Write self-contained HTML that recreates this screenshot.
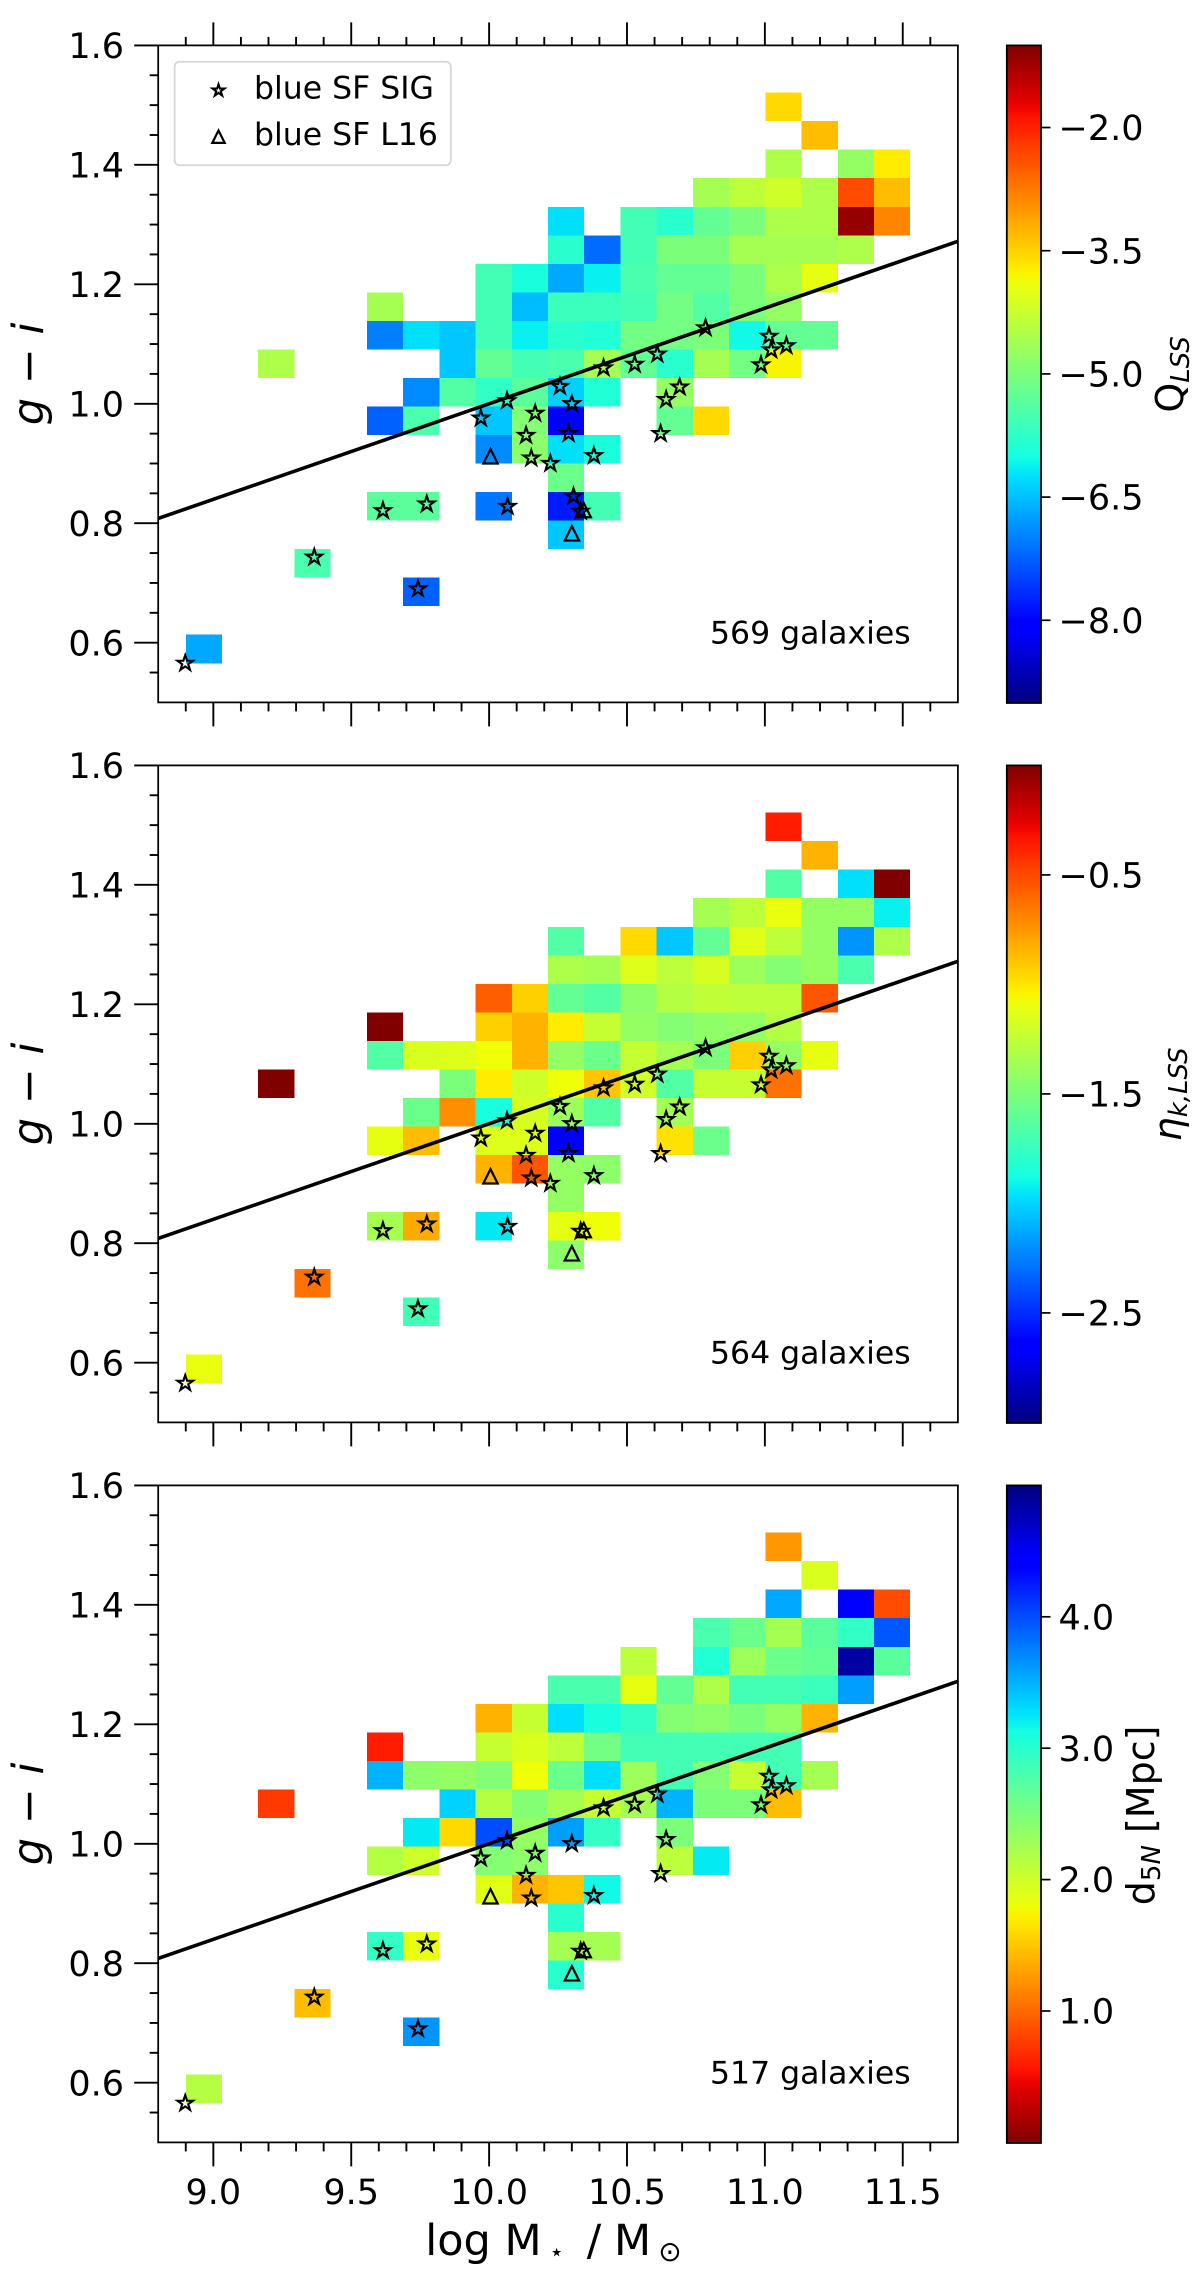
<!DOCTYPE html>
<html lang="en">
<head>
<meta charset="utf-8">
<title>Colour-mass diagrams</title>
<style>
html,body{margin:0;padding:0;background:#fff;}
svg{display:block;}
text{font-family:"DejaVu Sans","Liberation Sans",sans-serif;fill:#000;}
</style>
</head>
<body>
<svg id="figure" xmlns="http://www.w3.org/2000/svg" width="1200" height="2280" viewBox="0 0 1200 2280">
<defs id="defs"></defs>
</svg>
<script>
const N = null;

const massTicks = [9.0, 9.5, 10.0, 10.5, 11.0, 11.5];
const massMinorTicks = [8.9, 9.1, 9.2, 9.3, 9.4, 9.6, 9.7, 9.8, 9.9, 10.1, 10.2, 10.3, 10.4, 10.6, 10.7, 10.8, 10.9, 11.1, 11.2, 11.3, 11.4, 11.6];
const colourTicks = [0.6, 0.8, 1.0, 1.2, 1.4, 1.6];
const colourMinorTicks = [0.55, 0.65, 0.7, 0.75, 0.85, 0.9, 0.95, 1.05, 1.1, 1.15, 1.25, 1.3, 1.35, 1.45, 1.5, 1.55];

const qlssTicks = [-2.0, -3.5, -5.0, -6.5, -8.0];
const etaTicks = [-0.5, -1.5, -2.5];
const d5nTicks = [1.0, 2.0, 3.0, 4.0];

const galaxyCounts = [569, 564, 517];

const sequenceSlope = 0.16;
const sequenceIntercept = -0.6;

const sigStarMass = [8.898, 9.366, 9.742, 9.615, 9.774, 10.067, 9.97, 10.065, 10.167, 10.134, 10.153, 10.222, 10.257, 10.30, 10.288, 10.306, 10.332, 10.38, 10.642, 10.691, 10.622, 10.415, 10.528, 10.61, 10.785, 11.015, 11.023, 11.078, 10.986];
const sigStarColour = [0.5655, 0.743, 0.690, 0.821, 0.832, 0.828, 0.976, 1.005, 0.984, 0.947, 0.909, 0.900, 1.029, 1.0, 0.95, 0.845, 0.82, 0.913, 1.007, 1.028, 0.95, 1.06, 1.066, 1.083, 1.127, 1.113, 1.09, 1.097, 1.065];
const panel1MissingStars = [];
const panel2MissingStars = [15];
const panel3MissingStars = [5, 11, 12, 14, 15, 19, 24];

const l16Mass = [10.005, 10.30, 10.343];
const l16Colour = [0.912, 0.783, 0.822];

/* 2-D bins: first row is the lowest g-i row, each row listed by increasing mass bin */
const binMassStart = 8.9;
const binMassStep = 0.13135;
const binColourStart = 0.5655;
const binColourStep = 0.04777;

const qlssValues = [
[-6.68],
[],
[N,N,N,N,N,N,-7.24],
[N,N,N,-5.48],
[N,N,N,N,N,N,N,N,N,N,-6.44],
[N,N,N,N,N,-5.32,-5.32,N,-7.08,N,-7.8,-5.56],
[N,N,N,N,N,N,N,N,N,N,-5.16],
[N,N,N,N,N,N,N,N,-6.92,-4.84,-6.24,-5.96],
[N,N,N,N,N,-7.24,-5.48,N,-6.44,-4.92,-8.04,N,N,-5.24,-3.56],
[N,N,N,N,N,N,-6.92,-5.4,-5.72,-5.32,-6.36,-5.88,N,-4.76],
[N,N,-4.52,N,N,N,N,-6.44,-5.24,-5.56,-5.48,-4.6,-5.24,-5.8,-4.6,-5.08,-3.8],
[N,N,N,N,N,-7,-6.24,-6.44,-5.56,-6.12,-5.8,-5.88,-5.08,-5.08,-5,-6.04,-5.24,-5.24],
[N,N,N,N,N,-4.6,N,N,-5.56,-6.52,-5.64,-5.64,-5.56,-5.08,-5.4,-5,-4.76],
[N,N,N,N,N,N,N,N,-5.56,-5.96,-6.68,-6.12,-5.48,-5.24,-5.24,-5,-4.52,-3.96],
[N,N,N,N,N,N,N,N,N,N,-5.8,-7.16,-5.56,-5,-5,-4.6,-4.6,-4.6,-4.52],
[N,N,N,N,N,N,N,N,N,N,-6.24,N,-5.56,-5.8,-5.24,-5,-4.52,-4.52,-1.16,-2.84],
[N,N,N,N,N,N,N,N,N,N,N,N,N,N,-4.6,-4.36,-4.2,-4.52,-2.36,-3.32],
[N,N,N,N,N,N,N,N,N,N,N,N,N,N,N,N,-4.52,N,-4.76,-3.72],
[N,N,N,N,N,N,N,N,N,N,N,N,N,N,N,N,N,-3.32],
[N,N,N,N,N,N,N,N,N,N,N,N,N,N,N,N,-3.56]
];

const etaValues = [
[-1.1],
[],
[N,N,N,N,N,N,-1.71],
[N,N,N,-0.63],
[N,N,N,N,N,N,N,N,N,N,-1.44],
[N,N,N,N,N,-1.35,-0.81,N,-1.94,N,-1.11,-1.08],
[N,N,N,N,N,N,N,N,N,N,-1.41],
[N,N,N,N,N,N,N,N,-0.84,-0.54,-1.41,-1.44],
[N,N,N,N,N,-1.11,-0.87,N,-1.14,-1.14,-2.64,N,N,-0.99,-1.56],
[N,N,N,N,N,N,-1.56,-0.72,-1.86,-1.17,-1.38,-1.65,N,-1.35],
[N,N,0,N,N,N,N,-1.5,-1.02,-1.2,-1.08,-0.9,-1.2,-1.65,-1.23,-1.23,-0.63],
[N,N,N,N,N,-1.65,-1.16,-1.14,-1.08,-0.84,-1.41,-1.56,-1.23,-1.35,-1.5,-0.93,-1.41,-1.11],
[N,N,N,N,N,0,N,N,-0.93,-0.84,-1.02,-1.23,-1.41,-1.47,-1.43,-1.41,-1.29],
[N,N,N,N,N,N,N,N,-0.57,-0.93,-1.59,-1.65,-1.44,-1.29,-1.25,-1.26,-1.26,-0.54],
[N,N,N,N,N,N,N,N,N,N,-1.32,-1.35,-1.14,-1.26,-1.17,-1.38,-1.47,-1.41,-1.68],
[N,N,N,N,N,N,N,N,N,N,-1.65,N,-0.96,-2.04,-1.59,-1.13,-1.26,-1.41,-2.19,-1.32],
[N,N,N,N,N,N,N,N,N,N,N,N,N,N,-1.35,-1.26,-1.1,-1.41,-1.41,-1.92],
[N,N,N,N,N,N,N,N,N,N,N,N,N,N,N,N,-1.65,N,-1.97,0],
[N,N,N,N,N,N,N,N,N,N,N,N,N,N,N,N,N,-0.84],
[N,N,N,N,N,N,N,N,N,N,N,N,N,N,N,N,-0.36]
];

const d5nValues = [
[2.15],
[],
[N,N,N,N,N,N,3.65],
[N,N,N,1.45],
[N,N,N,N,N,N,N,N,N,N,3.0],
[N,N,N,N,N,2.95,1.83,N,N,N,2.25,2.25],
[N,N,N,N,N,N,N,N,N,N,3.0],
[N,N,N,N,N,N,N,N,1.88,1.4,1.5,3.15],
[N,N,N,N,N,2.15,2.0,N,2.45,2.4,N,N,N,2.1,3.23],
[N,N,N,N,N,N,3.23,1.6,4.0,2.35,3.6,2.95,N,2.5],
[N,N,0.75,N,N,N,N,3.35,2.15,2.45,2.25,2.05,2.25,3.5,2.5,2.5,1.45],
[N,N,N,N,N,3.5,2.4,2.35,2.45,1.8,2.6,3.28,2.3,2.85,2.45,2.05,2.85,2.25],
[N,N,N,N,N,0.6,N,N,2.05,1.93,2.1,2.55,2.85,2.85,2.85,2.85,2.85],
[N,N,N,N,N,N,N,N,1.4,2.05,3.28,3.1,2.95,2.45,2.4,2.5,2.35,1.4],
[N,N,N,N,N,N,N,N,N,N,2.8,2.8,1.85,2.65,2.2,2.85,2.85,2.9,3.6],
[N,N,N,N,N,N,N,N,N,N,N,N,2.1,N,3.05,2.3,2.6,2.65,4.85,2.7],
[N,N,N,N,N,N,N,N,N,N,N,N,N,N,2.8,2.6,2.25,2.7,2.95,3.95],
[N,N,N,N,N,N,N,N,N,N,N,N,N,N,N,N,3.55,N,4.38,0.85],
[N,N,N,N,N,N,N,N,N,N,N,N,N,N,N,N,N,1.93],
[N,N,N,N,N,N,N,N,N,N,N,N,N,N,N,N,1.25]
];

const SVG_NS = 'http://www.w3.org/2000/svg';
const svg = document.getElementById('figure');
const defs = document.getElementById('defs');

const AX_LEFT = 158.2, AX_RIGHT = 957.9, MASS_MIN = 8.8, MASS_MAX = 11.7;
const COL_MIN = 0.5, COL_MAX = 1.6, AX_HEIGHT = 657;
const CB_LEFT = 1006.8, CB_RIGHT = 1041;
const TICK_FONT = 35, NOTE_FONT = 31.5, LABEL_FONT = 43;

function el(tag, attrs, parent) {
  const node = document.createElementNS(SVG_NS, tag);
  for (const k in attrs) node.setAttribute(k, attrs[k]);
  parent.appendChild(node);
  return node;
}

function interp(stops, t) {
  for (let i = 1; i < stops.length; i++) {
    if (t <= stops[i][0]) {
      const a = stops[i - 1], b = stops[i];
      return a[1] + (b[1] - a[1]) * (t - a[0]) / (b[0] - a[0]);
    }
  }
  return stops[stops.length - 1][1];
}
const jetR = [[0,0],[0.35,0],[0.66,1],[0.89,1],[1,0.5]];
const jetG = [[0,0],[0.125,0],[0.375,1],[0.64,1],[0.91,0],[1,0]];
const jetB = [[0,0.5],[0.11,1],[0.34,1],[0.65,0],[1,0]];
function jet(t) {
  t = Math.max(0, Math.min(1, t));
  const c = [jetR, jetG, jetB].map(s => Math.round(255 * interp(s, t)));
  return 'rgb(' + c.join(',') + ')';
}

function xScale(m) {
  return AX_LEFT + (m - MASS_MIN) / (MASS_MAX - MASS_MIN) * (AX_RIGHT - AX_LEFT);
}
function makeYScale(top) {
  return function (c) {
    return top + (COL_MAX - c) / (COL_MAX - COL_MIN) * AX_HEIGHT;
  };
}

function starPoints(cx, cy, R) {
  const pts = [];
  for (let i = 0; i < 10; i++) {
    const r = i % 2 === 0 ? R : R * 0.382;
    const a = -Math.PI / 2 + i * Math.PI / 5;
    pts.push((cx + r * Math.cos(a)).toFixed(2) + ',' + (cy + r * Math.sin(a)).toFixed(2));
  }
  return pts.join(' ');
}
function trianglePoints(cx, cy, R) {
  return [cx + ',' + (cy - R), (cx + R) + ',' + (cy + R), (cx - R) + ',' + (cy + R)].join(' ');
}

function drawPanel(opts) {
  const top = opts.top;
  const bottom = top + AX_HEIGHT;
  const yScale = makeYScale(top);

  const group = el('g', {}, svg);
  
  

  /* heatmap cells */
  const cells = el('g', {'shape-rendering': 'crispEdges'}, group);
  
  
  opts.values.forEach(function (row, j) {
    row.forEach(function (v, i) {
      if (v === null || v === undefined) return;
      const x0 = xScale(binMassStart + i * binMassStep);
      const x1 = xScale(binMassStart + (i + 1) * binMassStep);
      const y1 = yScale(binColourStart + j * binColourStep);
      const y0 = yScale(binColourStart + (j + 1) * binColourStep);
      const t = opts.norm(v);
      const cell = el('rect', {x: x0, y: y0, width: x1 - x0, height: y1 - y0, fill: jet(t)}, cells);
      
      
    });
  });

  /* sequence line */
  const line = el('line', {
    x1: xScale(MASS_MIN), y1: yScale(sequenceSlope * MASS_MIN + sequenceIntercept),
    x2: xScale(MASS_MAX), y2: yScale(sequenceSlope * MASS_MAX + sequenceIntercept),
    stroke: '#000', 'stroke-width': 3.6
  }, group);
  
  

  /* stars */
  sigStarMass.forEach(function (m, k) {
    if (opts.missing.indexOf(k) >= 0) return;
    const s = el('polygon', {
      points: starPoints(xScale(m), yScale(sigStarColour[k]), 8.2),
      fill: 'none', stroke: '#000', 'stroke-width': 2.1, 'stroke-linejoin': 'miter'
    }, group);
    
    
  });

  /* triangles */
  l16Mass.forEach(function (m, k) {
    const t = el('polygon', {
      points: trianglePoints(xScale(m), yScale(l16Colour[k]), 7.2),
      fill: 'none', stroke: '#000', 'stroke-width': 2.2
    }, group);
    
    
  });

  /* frame */
  const frame = el('rect', {x: AX_LEFT, y: top, width: AX_RIGHT - AX_LEFT, height: AX_HEIGHT, fill: 'none', stroke: '#000', 'stroke-width': 1.75}, group);
  
  

  /* x ticks */
  massTicks.forEach(function (m) {
    const x = xScale(m);
    const tk = el('line', {x1: x, x2: x, y1: bottom, y2: bottom + 24, stroke: '#000', 'stroke-width': 1.9}, group);
    
    
    if (opts.topTicks) {
      const tt = el('line', {x1: x, x2: x, y1: top, y2: top - 23, stroke: '#000', 'stroke-width': 1.9}, group);
      
      
    }
    if (opts.xLabels) {
      const lab = el('text', {x: x, y: 2204, 'text-anchor': 'middle', 'font-size': TICK_FONT}, group);
      lab.textContent = m.toFixed(1);
      
      
    }
  });
  massMinorTicks.forEach(function (m) {
    const x = xScale(m);
    const tk = el('line', {x1: x, x2: x, y1: bottom, y2: bottom + 9, stroke: '#000', 'stroke-width': 1.9}, group);
    
    
    if (opts.topTicks) {
      const tt = el('line', {x1: x, x2: x, y1: top, y2: top - 8.5, stroke: '#000', 'stroke-width': 1.9}, group);
      
      
    }
  });

  /* y ticks */
  colourTicks.forEach(function (c) {
    const y = yScale(c);
    const tk = el('line', {x1: AX_LEFT, x2: AX_LEFT - 24, y1: y, y2: y, stroke: '#000', 'stroke-width': 1.9}, group);
    
    
    const lab = el('text', {x: 124, y: y + 12.6, 'text-anchor': 'end', 'font-size': TICK_FONT}, group);
    lab.textContent = c.toFixed(1);
    
    
  });
  colourMinorTicks.forEach(function (c) {
    const y = yScale(c);
    const tk = el('line', {x1: AX_LEFT, x2: AX_LEFT - 8.5, y1: y, y2: y, stroke: '#000', 'stroke-width': 1.9}, group);
    
    
  });

  /* y axis title */
  const midY = top + AX_HEIGHT / 2;
  const yTitle = el('text', {x: 0, y: 0, 'text-anchor': 'middle', 'font-size': LABEL_FONT, 'font-style': 'italic', transform: 'translate(43,' + midY + ') rotate(-90)'}, group);
  yTitle.textContent = 'g \u2212 i';
  
  

  /* galaxy count */
  const note = el('text', {x: 710, y: top + 598, 'font-size': NOTE_FONT}, group);
  note.textContent = opts.count + ' galaxies';
  
  

  /* colorbar */
  const gid = opts.name + '-gradient';
  const grad = el('linearGradient', {id: gid, x1: 0, y1: 1, x2: 0, y2: 0}, defs);
  for (let i = 0; i <= 64; i++) {
    const t = i / 64;
    el('stop', {offset: t, 'stop-color': jet(opts.reversed ? 1 - t : t)}, grad);
  }
  const cb = el('rect', {x: CB_LEFT, y: top, width: CB_RIGHT - CB_LEFT, height: AX_HEIGHT + 0.6, fill: 'url(#' + gid + ')', stroke: '#000', 'stroke-width': 1.75}, group);
  
  
  opts.cbTicks.forEach(function (v) {
    const y = bottom - (opts.reversed ? 1 - opts.norm(v) : opts.norm(v)) * AX_HEIGHT;
    const tk = el('line', {x1: CB_RIGHT, x2: CB_RIGHT + 9.5, y1: y, y2: y, stroke: '#000', 'stroke-width': 1.7}, group);
    
    
    const lab = el('text', {x: 1058.5, y: y + 12.6, 'font-size': TICK_FONT}, group);
    lab.textContent = v.toFixed(1).replace('-', '\u2212');
    
    
  });

  /* colorbar title */
  const title = el('text', {x: 0, y: 0, 'text-anchor': 'middle', 'font-size': 38, transform: 'translate(' + opts.cbTitleX + ',' + (top + opts.cbTitleY) + ') rotate(-90)'}, group);
  
  
  opts.cbTitle.forEach(function (part) {
    const ts = el('tspan', {}, title);
    ts.textContent = part.t;
    if (part.italic) ts.setAttribute('font-style', 'italic');
    if (part.sub) ts.setAttribute('font-size', 26);
    if (part.drop) ts.setAttribute('dy', part.drop);
  });
}

drawPanel({
  name: 'panel-qlss', top: 45.4, values: qlssValues, missing: panel1MissingStars,
  norm: function (v) { return (v + 9) / 8; }, reversed: false, cbTicks: qlssTicks,
  count: galaxyCounts[0], topTicks: true, xLabels: false,
  cbTitle: [{t: 'Q'}, {t: 'LSS', italic: true, sub: true, drop: 6}], cbTitleX: 1183, cbTitleY: 329
});
drawPanel({
  name: 'panel-eta', top: 765.4, values: etaValues, missing: panel2MissingStars,
  norm: function (v) { return (v + 3) / 3; }, reversed: false, cbTicks: etaTicks,
  count: galaxyCounts[1], topTicks: false, xLabels: false,
  cbTitle: [{t: '\u03B7', italic: true}, {t: 'k,LSS', italic: true, sub: true, drop: 6}], cbTitleX: 1181, cbTitleY: 329
});
drawPanel({
  name: 'panel-d5n', top: 1485.4, values: d5nValues, missing: panel3MissingStars,
  norm: function (v) { return 1 - v / 5; }, reversed: true, cbTicks: d5nTicks,
  count: galaxyCounts[2], topTicks: false, xLabels: true,
  cbTitle: [{t: 'd'}, {t: '5', sub: true, drop: 6}, {t: 'N', italic: true, sub: true}, {t: ' [Mpc]', drop: -6}], cbTitleX: 1154, cbTitleY: 330
});

/* x axis title */
const xTitleMain = el('text', {x: 425.3, y: 2255, 'font-size': LABEL_FONT}, svg);
xTitleMain.textContent = 'log M';


const xTitleStar = el('text', {x: 556.7, y: 2260, 'text-anchor': 'middle', 'font-size': 24}, svg);
xTitleStar.textContent = '\u22C6';


const xTitleSlash = el('text', {x: 586.7, y: 2255, 'font-size': LABEL_FONT}, svg);
xTitleSlash.textContent = '/';


const xTitleSolar = el('text', {x: 614, y: 2255, 'font-size': LABEL_FONT}, svg);
xTitleSolar.textContent = 'M';


const xTitleSun = el('text', {x: 670, y: 2261, 'text-anchor': 'middle', 'font-size': 28}, svg);
xTitleSun.textContent = '\u2299';



/* legend */
const legend = el('g', {}, svg);


const legendBox = el('rect', {x: 174.6, y: 61.7, width: 276.2, height: 103.6, rx: 5, ry: 5, fill: '#fff', 'fill-opacity': 0.8, stroke: '#d5d5d5', 'stroke-width': 1.75}, legend);


const legendStar = el('polygon', {points: starPoints(218.5, 90.5, 6.2), fill: 'none', stroke: '#000', 'stroke-width': 2.1}, legend);


const legendTri = el('polygon', {points: trianglePoints(218.5, 136.7, 6.2), fill: 'none', stroke: '#000', 'stroke-width': 2.2}, legend);


const legendSig = el('text', {x: 254, y: 98.3, 'font-size': NOTE_FONT}, legend);
legendSig.textContent = 'blue SF SIG';


const legendL16 = el('text', {x: 254, y: 145, 'font-size': NOTE_FONT}, legend);
legendL16.textContent = 'blue SF L16';


</script>
</body>
</html>
